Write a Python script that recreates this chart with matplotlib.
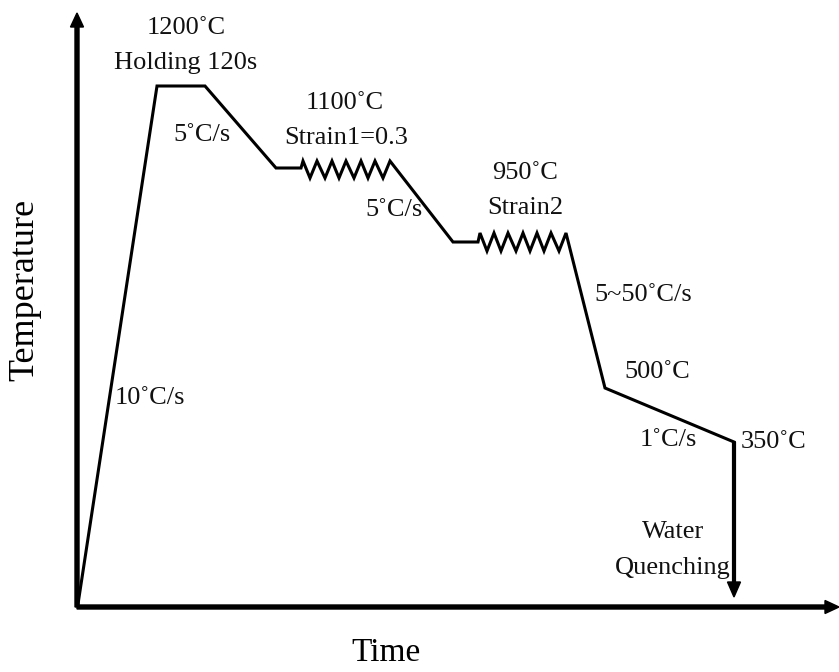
import numpy as np
import matplotlib.pyplot as plt

# schematic thermal route, units = px from the axis corner
time = [1, 80, 128, 199, 224,
        226, 233, 240, 248, 255, 262, 269, 277, 284, 291, 298, 306, 313,
        376, 401,
        403, 410, 417, 424, 431, 439, 446, 453, 460, 467, 474, 482, 489,
        528, 657]
temp = [3, 521, 521, 439, 439,
        446, 429, 446, 429, 446, 429, 446, 429, 446, 429, 446, 429, 446,
        365, 365,
        374, 356, 374, 356, 374, 356, 374, 356, 374, 356, 374, 356, 374,
        219, 165]
quench_time = 657
quench_start, quench_end = 165, 10

labels = ['1200˚C', 'Holding 120s', '5˚C/s', '1100˚C', 'Strain1=0.3', '5˚C/s',
          '950˚C', 'Strain2', '5~50˚C/s', '500˚C', '1˚C/s', '350˚C',
          'Water', 'Quenching', '10˚C/s']
label_x = [109, 109, 125, 268, 269, 317, 448, 448, 566, 580, 591, 697, 596, 596, 73]
label_y = [579, 544, 472, 504, 469, 397, 434, 399, 312, 235, 167, 165, 75, 39, 209]

W, H = 839, 672
X0, Y0 = 77, 607  # axis corner in the picture

fig = plt.figure(figsize=(W / 100, H / 100), dpi=100)
ax = fig.add_axes([X0 / W, (H - Y0) / H, (W - X0) / W, Y0 / H])
ax.set_xlim(0, W - X0)
ax.set_ylim(0, Y0)
ax.axis('off')

plt.rcParams['font.family'] = ['Liberation Serif', 'DejaVu Serif']

# axes arrows
ax.arrow(0, 0, 0, Y0 - 13, width=4, head_width=13, head_length=14,
         length_includes_head=True, color='black', clip_on=False)
ax.arrow(0, 0, W - X0, 0, width=4, head_width=13, head_length=14,
         length_includes_head=True, color='black', clip_on=False)

# process curve
ax.plot(time, temp, color='black', lw=2.2, solid_joinstyle='miter', clip_on=False)
ax.arrow(quench_time, quench_start, 0, quench_end - quench_start, width=2.8,
         head_width=13, head_length=15, length_includes_head=True,
         color='black', clip_on=False)

for s, x, y in zip(labels, label_x, label_y):
    ax.text(x, y, s, fontsize=19, ha='center', va='center', color='#111111')

ax.text(309, -46, 'Time', fontsize=24, ha='center', va='center', clip_on=False)
ax.text(-52, 317, 'Temperature', fontsize=26, rotation=90, ha='center',
        va='center', clip_on=False)

fig.savefig('out.png', dpi=100)
